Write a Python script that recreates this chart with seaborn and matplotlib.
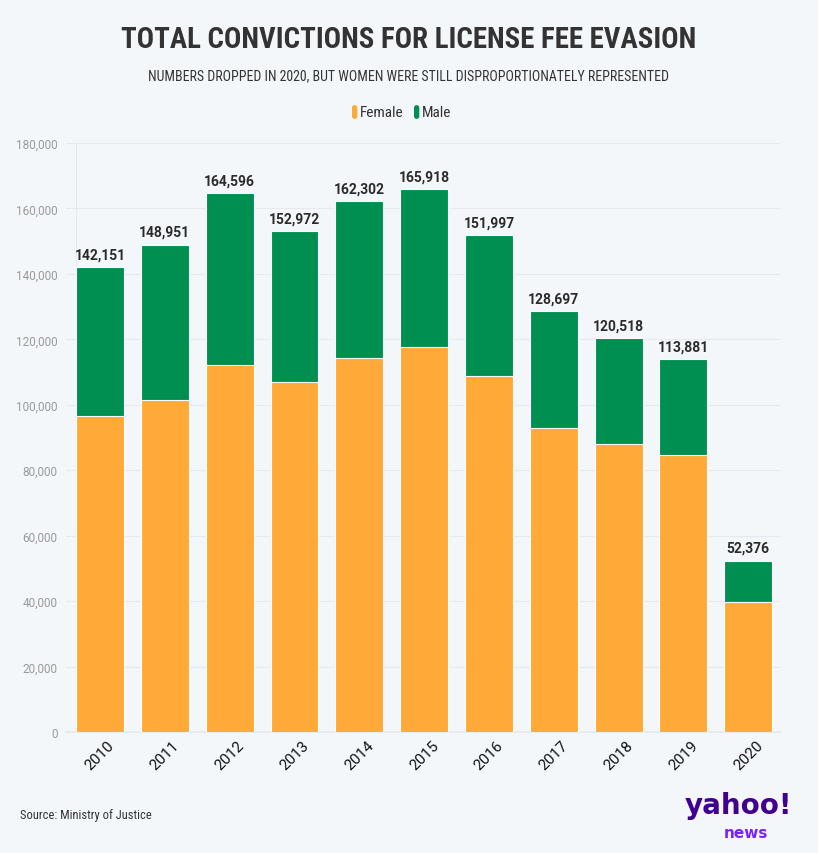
import matplotlib
matplotlib.use("Agg")
import matplotlib.pyplot as plt
import seaborn as sns
import pandas as pd
from matplotlib.patches import FancyBboxPatch

years = ["2010", "2011", "2012", "2013", "2014", "2015", "2016", "2017", "2018", "2019", "2020"]
totals = [142151, 148951, 164596, 152972, 162302, 165918, 151997, 128697, 120518, 113881, 52376]
female = [96700, 101500, 112200, 106900, 114300, 117600, 108900, 92900, 88000, 84700, 39600]
yticks = [0, 20000, 40000, 60000, 80000, 100000, 120000, 140000, 160000, 180000]

BG = "#F4F7FA"
ORANGE = "#FFAA38"
GREEN = "#008F51"
DARK = "#2B2B2B"

sns.set_theme(style="white")
plt.rcParams["font.family"] = ["Roboto", "DejaVu Sans"]

df = pd.DataFrame({"year": years, "total": totals, "female": female})

fig = plt.figure(figsize=(8.18, 8.54), dpi=100, facecolor=BG)
ax = fig.add_axes([66/818, 1-733/854, 714/818, (733-144)/854])
ax.set_facecolor(BG)

sns.barplot(data=df, x="year", y="total", color=GREEN, saturation=1, width=0.74,
            edgecolor="#FFFFFF", linewidth=0.8, ax=ax, zorder=3)
sns.barplot(data=df, x="year", y="female", color=ORANGE, saturation=1, width=0.74,
            edgecolor="#FFFFFF", linewidth=0.8, ax=ax, zorder=4)

ax.bar_label(ax.containers[0], labels=[f"{v:,}" for v in totals], padding=4,
             fontsize=10, fontweight="bold", color=DARK, zorder=5)

ax.set_ylim(0, 180000)
ax.set_xlim(-0.525, 10.49)
ax.set_yticks(yticks)
ax.set_yticklabels([f"{v:,}" for v in yticks], color="#9A9A9A", fontsize=8.5)
ax.tick_params(axis="y", length=0, pad=6)
ax.tick_params(axis="x", length=0, pad=4)
plt.setp(ax.get_xticklabels(), rotation=45, ha="center", fontsize=11, color="#111111")
ax.grid(axis="y", color="#E6E9EE", linewidth=0.8, zorder=0)
ax.axvline(-0.525 + 0.15, color="#E6E9EE", linewidth=0.8, zorder=0)
for s in ["top", "right", "left"]:
    ax.spines[s].set_visible(False)
ax.spines["bottom"].set_color("#E6E9EE")
ax.set_xlabel("")
ax.set_ylabel("")

cond = ["Liberation Sans Narrow", "Roboto Condensed", "DejaVu Sans"]
fig.text(0.5, 1-40/854, "TOTAL CONVICTIONS FOR LICENSE FEE EVASION", ha="center", va="center",
         fontsize=20.8, fontweight="heavy", color="#333333", family=cond)
fig.text(0.5, 1-76/854, "NUMBERS DROPPED IN 2020, BUT WOMEN WERE STILL DISPROPORTIONATELY REPRESENTED",
         ha="center", va="center", fontsize=10, color="#333333", family=cond)

# legend
ly = 1-113/854
for x0, col, lab in [(352/818, ORANGE, "Female"), (414/818, GREEN, "Male")]:
    fig.patches.append(FancyBboxPatch((x0, ly-0.008), 0.0065, 0.016, boxstyle="round,pad=0,rounding_size=0.003",
                                      transform=fig.transFigure, facecolor=col, edgecolor="none"))
    fig.text(x0 + 0.01, ly, lab, ha="left", va="center", fontsize=11, color="#333333", family=cond)

fig.text(20/818, 1-816/854, "Source: Ministry of Justice", ha="left", va="center", fontsize=9,
         color="#333333", family=cond)
fig.text(738/818, 1-806/854, "yahoo!", ha="center", va="center", fontsize=20, fontweight="heavy",
         color="#400090", family=["DejaVu Sans"])
fig.text(746/818, 1-834/854, "news", ha="center", va="center", fontsize=11, fontweight="bold",
         color="#7E1FFF", family=["DejaVu Sans"])

fig.savefig("out.png", dpi=100, facecolor=BG)
